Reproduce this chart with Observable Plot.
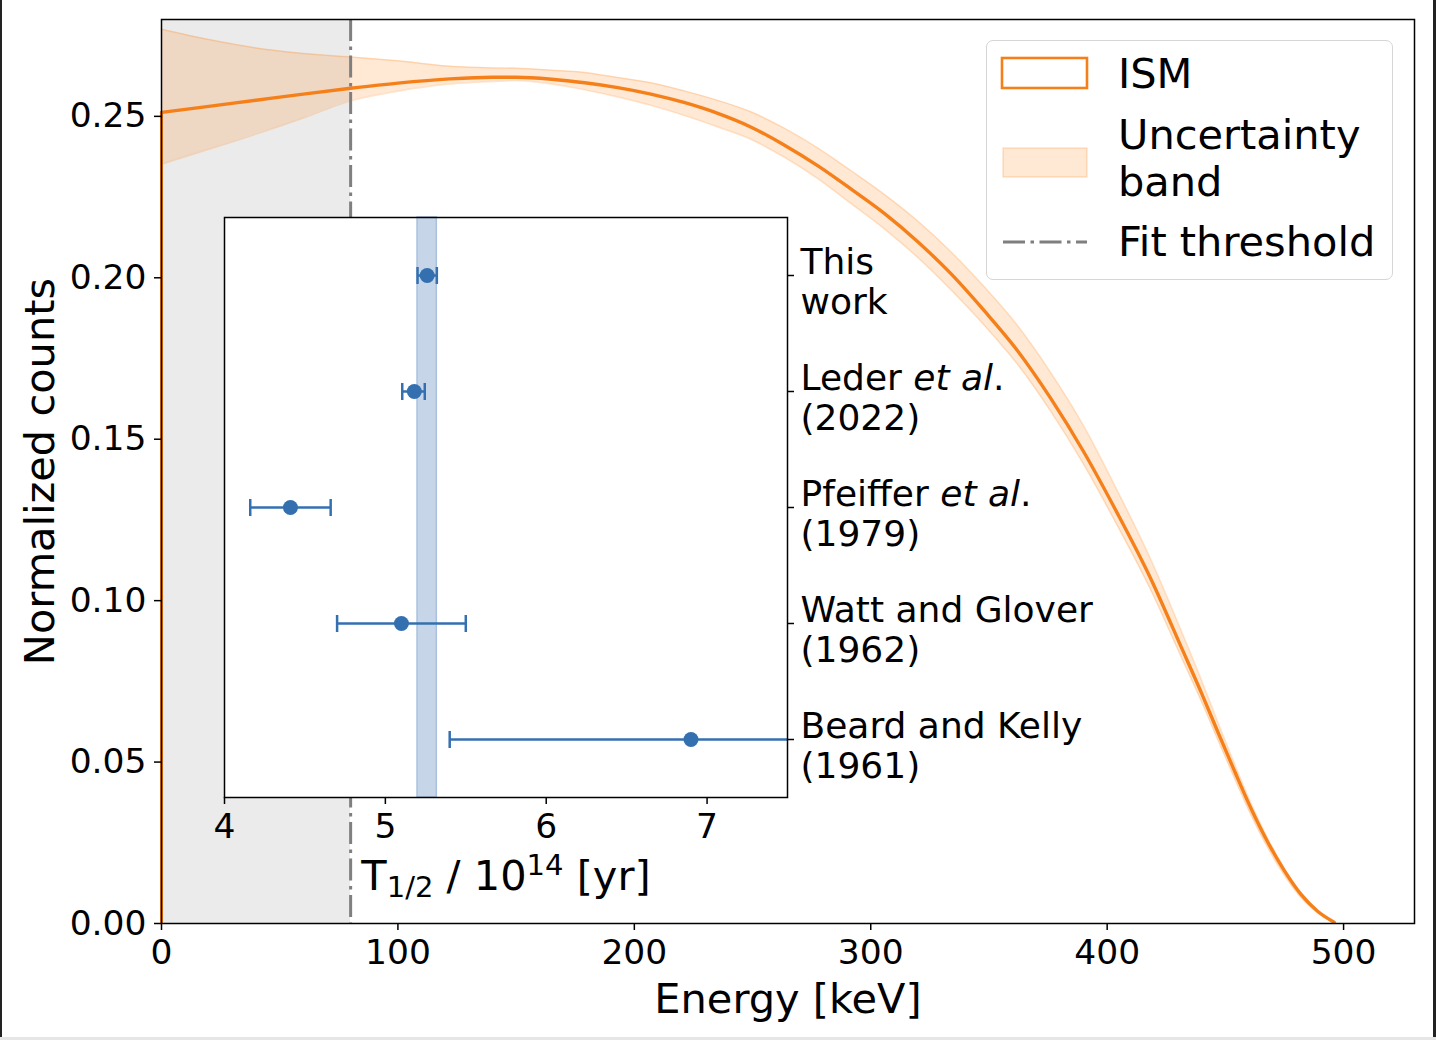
<!DOCTYPE html>
<html><head><meta charset="utf-8">
<script src="https://cdn.jsdelivr.net/npm/d3@7"></script>
<script src="https://cdn.jsdelivr.net/npm/@observablehq/plot@0.6"></script>
<style>
body{margin:0;background:#fff;}
#wrap{position:relative;width:1436px;height:1040px;overflow:hidden;font-family:"DejaVu Sans";background:#fff;}
#wrap > svg{position:absolute;left:0;top:0;}
.edge{position:absolute;}
#legend{position:absolute;left:986px;top:40px;width:407px;height:240px;box-sizing:border-box;border:1.6px solid #d6d6d6;border-radius:7px;background:rgba(255,255,255,0.85);}
#legend svg{position:absolute;left:0;top:0;overflow:visible;}
</style></head><body>
<div id="wrap"></div>
<script>
// ---------- main spectrum data ----------
const energy    = [0, 20, 40, 60, 80, 100, 122, 140, 150, 165, 179, 193, 207, 221, 235, 249, 263, 278, 292, 306, 320, 334, 348, 362, 376, 390, 404, 418, 432, 440, 447, 454, 461, 468, 475, 482, 489, 496];
const ism       = [0.2512, 0.2531, 0.2550, 0.2569, 0.2587, 0.2603, 0.2616, 0.2621, 0.2621, 0.2615, 0.2604, 0.2589, 0.2569, 0.2543, 0.2510, 0.2468, 0.2413, 0.2345, 0.2273, 0.2198, 0.2111, 0.2012, 0.1898, 0.1775, 0.1628, 0.1462, 0.1275, 0.1075, 0.0845, 0.0712, 0.0590, 0.0470, 0.0354, 0.0251, 0.0163, 0.0090, 0.0038, 0.0004];
const bandUpper = [0.2770, 0.2738, 0.2712, 0.2695, 0.2684, 0.2672, 0.2655, 0.2650, 0.2649, 0.2643, 0.2636, 0.2620, 0.2604, 0.2579, 0.2550, 0.2515, 0.2465, 0.2400, 0.2330, 0.2257, 0.2175, 0.2080, 0.1972, 0.1853, 0.1708, 0.1542, 0.1345, 0.1135, 0.0895, 0.0752, 0.0620, 0.0492, 0.0370, 0.0262, 0.0170, 0.0095, 0.0041, 0.0004];
const bandLower = [0.2352, 0.2398, 0.2445, 0.2495, 0.2548, 0.2578, 0.2600, 0.2608, 0.2611, 0.2600, 0.2582, 0.2560, 0.2534, 0.2503, 0.2468, 0.2430, 0.2375, 0.2305, 0.2228, 0.2150, 0.2062, 0.1962, 0.1853, 0.1733, 0.1588, 0.1423, 0.1237, 0.1040, 0.0815, 0.0686, 0.0566, 0.0448, 0.0334, 0.0234, 0.0149, 0.0080, 0.0033, 0.0003];
const thresholdKeV = 80;
const xDomain = [0, 530];
const yDomain = [0, 0.28];
const xTicks = [0, 100, 200, 300, 400, 500];
const yTicks = [0, 0.05, 0.10, 0.15, 0.20, 0.25];

// ---------- inset half-life data ----------
const refLabels = ["This\nwork", "Leder et al.\n(2022)", "Pfeiffer et al.\n(1979)", "Watt and Glover\n(1962)", "Beard and Kelly\n(1961)"];
const halfLife  = [5.26, 5.18, 4.41, 5.10, 6.90];
const errLow    = [5.20, 5.105, 4.16, 4.70, 5.40];
const errHigh   = [5.32, 5.245, 4.66, 5.50, 8.40];
const thisBand  = [5.20, 5.32];
const insetXDomain = [4, 7.5];
const insetXTicks = [4, 5, 6, 7];

const ORANGE = "#f5801a";
const BLUE = "#3470b0";
const FONT = '"DejaVu Sans", sans-serif';
const DASHDOT = "22,5.5,3.5,5.5";

const spec = energy.map((e, i) => ({e, v: ism[i], lo: bandLower[i], hi: bandUpper[i]}));
const refs = refLabels.map((k, i) => ({k, v: halfLife[i], lo: errLow[i], hi: errHigh[i]}));

const main = Plot.plot({
  width: 1436, height: 1040,
  marginLeft: 161, marginRight: 22, marginTop: 19, marginBottom: 117,
  style: {fontFamily: FONT, background: "transparent", color: "black", overflow: "visible"},
  x: {domain: xDomain},
  y: {domain: yDomain},
  marks: [
    Plot.rect([thresholdKeV], {x1: xDomain[0], x2: d => d, fill: "#ebebeb"}),
    Plot.areaY(spec, {x: "e", y1: "lo", y2: "hi", fill: "#ff7f0e", fillOpacity: 0.18, curve: "monotone-x"}),
    Plot.lineY(spec, {x: "e", y: "hi", stroke: "#ff7f0e", strokeOpacity: 0.22, strokeWidth: 1.5, curve: "monotone-x"}),
    Plot.lineY(spec, {x: "e", y: "lo", stroke: "#ff7f0e", strokeOpacity: 0.22, strokeWidth: 1.5, curve: "monotone-x"}),
    Plot.ruleX([energy[0]], {y1: 0, y2: ism[0], stroke: ORANGE, strokeWidth: 3}),
    Plot.lineY(spec, {x: "e", y: "v", stroke: ORANGE, strokeWidth: 3.4, curve: "monotone-x"}),
    Plot.ruleX([thresholdKeV], {stroke: "#7f7f7f", strokeWidth: 3, strokeDasharray: DASHDOT}),
    Plot.frame({stroke: "black", strokeWidth: 1.5}),
    Plot.axisX({ticks: xTicks, tickSize: 7, tickPadding: 8.5, fontSize: 34.5, strokeWidth: 1.5, label: null, tickFormat: d3.format("d")}),
    Plot.axisY({ticks: yTicks, tickSize: 7, tickPadding: 8, fontSize: 34.5, strokeWidth: 1.5, label: null, tickFormat: d3.format(".2f")}),
    Plot.text(["Energy [keV]"], {text: d => d, frameAnchor: "bottom", lineAnchor: "middle", textAnchor: "middle", dy: 76, fontSize: 41.5, fill: "black"}),
    Plot.text(["Normalized counts"], {text: d => d, frameAnchor: "left", lineAnchor: "middle", textAnchor: "middle", dx: -121, rotate: -90, fontSize: 41.5, fill: "black"})
  ]
});

const capSymbol = {draw(ctx, size) { const h = Math.sqrt(size / Math.PI); ctx.moveTo(0, -h); ctx.lineTo(0, h); }};
const INSET_XLABEL = "T1/2 / 1014 [yr]";

const inset = Plot.plot({
  width: 1436, height: 1040,
  marginLeft: 224, marginRight: 649, marginTop: 217, marginBottom: 243,
  style: {fontFamily: FONT, background: "transparent", color: "black", overflow: "visible"},
  x: {domain: insetXDomain},
  y: {type: "point", domain: refLabels, padding: 0.5},
  marks: [
    Plot.frame({fill: "white", stroke: "none"}),
    Plot.rect([thisBand], {x1: d => d[0], x2: d => d[1], fill: "#c6d5e8", stroke: "#a9c1de", strokeWidth: 1.5}),
    Plot.ruleY(refs, {y: "k", x1: "lo", x2: "hi", stroke: BLUE, strokeWidth: 2.5, clip: true}),
    Plot.dot(refs, {x: "lo", y: "k", symbol: capSymbol, r: 8.5, stroke: BLUE, strokeWidth: 2.5, fill: "none", clip: true}),
    Plot.dot(refs, {x: "hi", y: "k", symbol: capSymbol, r: 8.5, stroke: BLUE, strokeWidth: 2.5, fill: "none", clip: true}),
    Plot.dot(refs, {x: "v", y: "k", r: 7.5, fill: BLUE, stroke: "none"}),
    Plot.frame({stroke: "black", strokeWidth: 1.5}),
    Plot.axisX({ticks: insetXTicks, tickSize: 7, tickPadding: 8.5, fontSize: 34.5, strokeWidth: 1.5, label: null, tickFormat: d3.format("d")}),
    Plot.axisY({anchor: "right", tickSize: 6, strokeWidth: 1.5, tickFormat: () => "", label: null}),
    Plot.text(refs, {y: "k", text: "k", frameAnchor: "right", dx: 13, dy: 6, textAnchor: "start", lineAnchor: "middle", fontSize: 36, lineHeight: 1.11, fill: "black"}),
    Plot.text([INSET_XLABEL], {text: d => d, frameAnchor: "bottom", lineAnchor: "middle", textAnchor: "middle", dy: 79, fontSize: 41.5, fill: "black"})
  ]
});

// italic "et al."
const NS = "http://www.w3.org/2000/svg";
inset.querySelectorAll("tspan, text").forEach(t => {
  if (t.childElementCount) return;
  const s = t.textContent; const i = s.indexOf("et al");
  if (i < 0) return;
  t.textContent = s.slice(0, i);
  const it = document.createElementNS(NS, "tspan");
  it.setAttribute("font-style", "italic");
  it.textContent = "et al";
  t.appendChild(it);
  t.appendChild(document.createTextNode(s.slice(i + 5)));
});
// sub/superscripts in inset x label
inset.querySelectorAll("text").forEach(t => {
  if (t.textContent !== INSET_XLABEL) return;
  t.textContent = "";
  const parts = [["T", 0, null], ["1/2", 7, 29], [" / 10", -7, null], ["14", -15, 29], [" [yr]", 15, null]];
  parts.forEach(([s, dy, fs]) => {
    const ts = document.createElementNS(NS, "tspan");
    ts.textContent = s;
    if (dy) ts.setAttribute("dy", dy);
    if (fs) ts.setAttribute("font-size", fs);
    t.appendChild(ts);
  });
});

const wrap = document.getElementById("wrap");
wrap.appendChild(main);
wrap.appendChild(inset);

// legend
const legend = document.createElement("div");
legend.id = "legend";
legend.innerHTML = `<svg width="407" height="240" font-family='${FONT}' font-size="41.5">
  <rect x="15" y="17" width="85" height="30" fill="white" stroke="${ORANGE}" stroke-width="2.6"/>
  <rect x="16" y="107" width="84" height="29" fill="#ff7f0e" fill-opacity="0.18" stroke="#ff7f0e" stroke-opacity="0.22" stroke-width="1.5"/>
  <line x1="16" x2="100" y1="201" y2="201" stroke="#7f7f7f" stroke-width="3" stroke-dasharray="${DASHDOT}"/>
  <text x="131" y="47">ISM</text>
  <text x="131" y="108">Uncertainty</text>
  <text x="131" y="155">band</text>
  <text x="131" y="215">Fit threshold</text>
</svg>`;
wrap.appendChild(legend);

// page edges like the screenshot
[["left:0;top:0;width:2px;height:1040px;background:#222"],
 ["left:1433px;top:0;width:3px;height:1040px;background:#222"],
 ["left:0;top:1037px;width:1436px;height:3px;background:#e6e6e6"]].forEach(([css]) => {
  const d = document.createElement("div"); d.className = "edge"; d.style.cssText = css; wrap.appendChild(d);
});
</script>
</body></html>
